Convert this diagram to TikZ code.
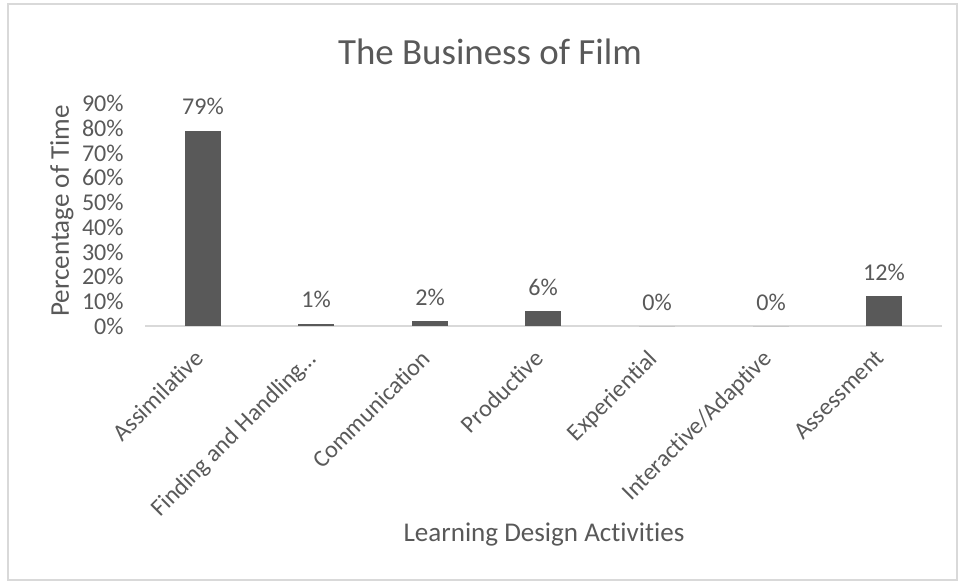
\documentclass[tikz,border=0pt]{standalone}
\usepackage{fontspec}
\setmainfont{Carlito}[Ligatures=NoCommon]
\definecolor{txtgray}{HTML}{595959}
\definecolor{bargray}{HTML}{595959}
\definecolor{linegray}{HTML}{D9D9D9}
\newcommand{\tk}{\fontsize{13.7}{16}\selectfont}

\begin{document}
\begin{tikzpicture}[x=0.02cm,y=-0.02cm,
   ticklbl/.style={text=txtgray,inner sep=0pt,font=\tk},
   catlbl/.style={text=txtgray,inner sep=0pt,font=\tk,rotate=45,anchor=north east},
   axtitle/.style={text=txtgray,inner sep=0pt,font=\fontsize{15.4}{18}\selectfont}]
   \useasboundingbox (0,0) rectangle (958,581);
   \draw[linegray,line width=0.8pt] (8,4) rectangle (957,580);
   \node[text=txtgray,inner sep=0pt,font=\fontsize{21}{24}\selectfont] (title) at (490,52) {The Business of Film};
   % y axis labels
   \foreach \v in {0,10,...,90}
      \node[ticklbl,anchor=east] (t\v) at (124,{326-2.47*\v}) {\v\%};
   \draw[linegray,line width=0.8pt] (145,326) -- (942,326);
   % bars and values
   \foreach \x/\v in {203/79,316/1,430/2,543/6,657/0,771/0,884/12} {
      \fill[bargray] (\x-18,326) rectangle (\x+18,{326-2.47*\v});
      \node[ticklbl] (v\x) at (\x,{326-2.47*\v-24}) {\v\%};
   }
   \node[catlbl] (c1) at (193,348) {Assimilative};
   \node[catlbl] (c2) at (306,348) {Finding and Handling…};
   \node[catlbl] (c3) at (420,348) {Communication};
   \node[catlbl] (c4) at (533,348) {Productive};
   \node[catlbl] (c5) at (647,348) {Experiential};
   \node[catlbl] (c6) at (761,348) {Interactive/Adaptive};
   \node[catlbl] (c7) at (874,348) {Assessment};
   \node[axtitle,rotate=90] (ytitle) at (62,211) {Percentage of Time};
   \node[axtitle] (xtitle) at (544,535) {Learning Design Activities};
\end{tikzpicture}
\end{document}
